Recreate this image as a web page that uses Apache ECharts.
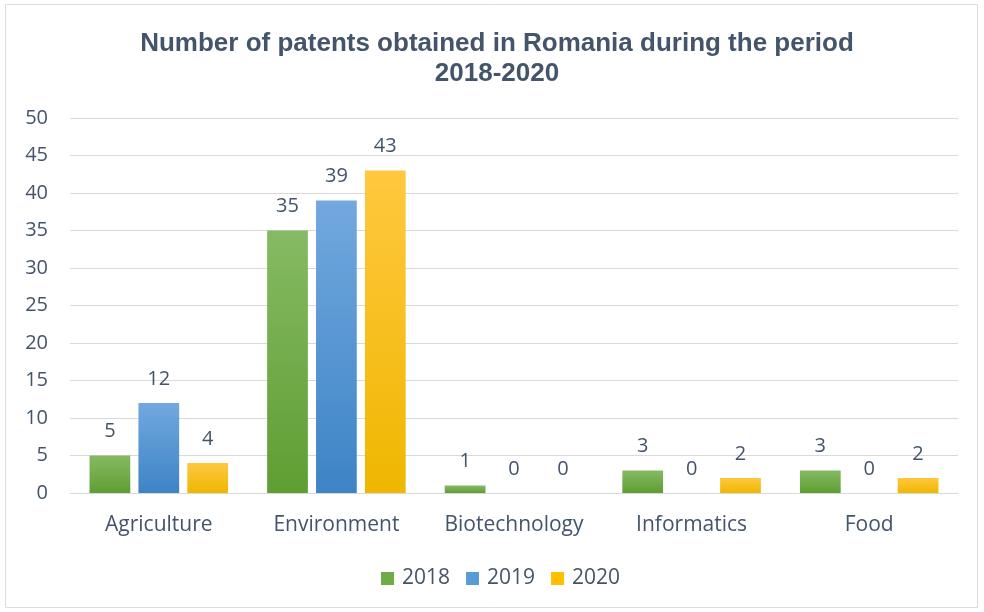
<!DOCTYPE html>
<html><head><meta charset="utf-8">
<script src="https://cdn.jsdelivr.net/npm/echarts@6/dist/echarts.min.js"></script>
<style>html,body{margin:0;padding:0;background:#fff}#c{width:984px;height:612px}</style>
</head><body><div id="c"></div>
<script>
const categories = ['Agriculture', 'Environment', 'Biotechnology', 'Informatics', 'Food'];
const seriesNames = ['2018', '2019', '2020'];
const values2018 = [5, 35, 1, 3, 3];
const values2019 = [12, 39, 0, 0, 0];
const values2020 = [4, 43, 0, 2, 2];
const yTicks = {min: 0, max: 50, interval: 5};

const txt = '#44546A';
const font = 'Open Sans';
function grad(top, bottom) {
  return new echarts.graphic.LinearGradient(0, 0, 0, 1, [{offset: 0, color: top}, {offset: 1, color: bottom}]);
}
const fills = [grad('#86ba63', '#5e9e32'), grad('#72a8de', '#3d84c6'), grad('#ffc83f', '#efb700')];
const legendColors = ['#6fac46', '#5b9bd5', '#ffc000'];
const data = [values2018, values2019, values2020];

const chart = echarts.init(document.getElementById('c'), null, {renderer: 'canvas'});
chart.setOption({
  animation: false,
  backgroundColor: '#fff',
  graphic: [{type: 'rect', shape: {x: 5.5, y: 4.5, width: 972, height: 603}, style: {fill: 'none', stroke: '#d9dde3', lineWidth: 1}, silent: true, z: -1}],
  title: {
    text: 'Number of patents obtained in Romania during the period\n2018-2020',
    left: 492, top: 24, textAlign: 'center',
    textStyle: {fontFamily: 'Liberation Sans', fontWeight: 'bold', fontSize: 26, color: txt, lineHeight: 30}
  },
  legend: {
    data: seriesNames.map((n, i) => ({name: n, itemStyle: {color: legendColors[i]}})),
    bottom: 23, left: 381, padding: 0, itemWidth: 13, itemHeight: 13, itemGap: 16, icon: 'rect',
    textStyle: {fontFamily: font, fontSize: 21, color: txt, padding: [0, 0, 0, 3]}
  },
  grid: {left: 70, right: 26, top: 118, bottom: 119, containLabel: false},
  xAxis: {
    type: 'category', data: categories,
    axisLine: {lineStyle: {color: '#d9d9d9', width: 1}},
    axisTick: {show: false},
    axisLabel: {interval: 0, hideOverlap: false, fontFamily: font, fontSize: 21, color: txt, margin: 22}
  },
  yAxis: {
    type: 'value', min: yTicks.min, max: yTicks.max, interval: yTicks.interval,
    axisLine: {show: false}, axisTick: {show: false},
    splitLine: {lineStyle: {color: '#d9d9d9', width: 1}},
    axisLabel: {fontFamily: font, fontSize: 20, color: txt, margin: 22}
  },
  series: seriesNames.map((n, i) => ({
    name: n, type: 'bar', data: data[i],
    barGap: '20%', barCategoryGap: '22%',
    itemStyle: {color: fills[i]},
    label: {show: true, position: 'top', distance: 14, fontFamily: font, fontSize: 20, color: txt}
  }))
});
</script></body></html>
